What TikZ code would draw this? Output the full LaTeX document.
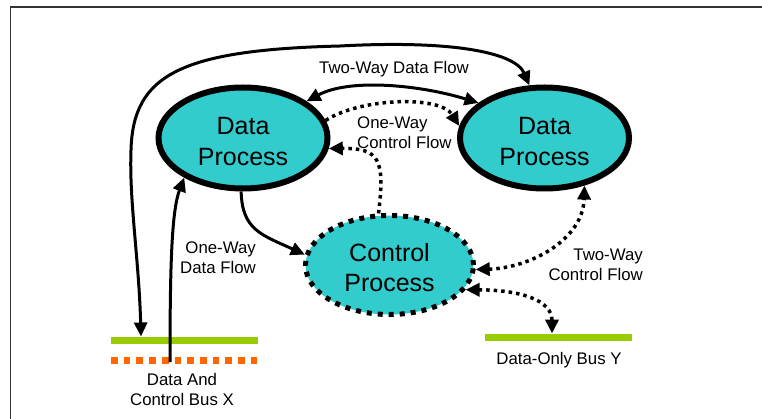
\documentclass[tikz,border=0pt]{standalone}
\usepackage{fontspec}
\setmainfont{Liberation Sans}
\usetikzlibrary{shapes.geometric,arrows.meta}
\definecolor{proc}{RGB}{51,204,204}
\definecolor{busgreen}{RGB}{153,204,0}
\definecolor{busorange}{RGB}{255,102,0}
\definecolor{framegray}{RGB}{51,51,51}
\begin{document}
\begin{tikzpicture}[x=1pt,y=-1pt,
  dataproc/.style={ellipse, draw=black, line width=6pt, fill=proc, minimum width=169pt, minimum height=101pt, inner sep=0pt, align=center, font=\fontsize{25}{31}\selectfont},
  ctrlproc/.style={ellipse, draw=black, line width=5pt, dash pattern=on 5pt off 6pt, fill=proc, minimum width=168pt, minimum height=99pt, inner sep=0pt, align=center, font=\fontsize{25}{29.5}\selectfont},
  lbl/.style={inner sep=0pt, font=\fontsize{16.8}{20}\selectfont},
  onehead/.style={-{Triangle[length=14pt,width=13pt]}},
  twohead/.style={{Triangle[length=14pt,width=13pt]}-{Triangle[length=14pt,width=13pt]}},
  solidflow/.style={line width=3pt},
  dotflow/.style={line width=3.5pt, dash pattern=on 3.5pt off 4pt},
  greenbus/.style={line width=7pt, busgreen},
  orangebus/.style={line width=7pt, busorange, dash pattern=on 6.7pt off 6pt},
  frameline/.style={line width=1.5pt, framegray}
]
\useasboundingbox (0,0) rectangle (762,419);
% frame
\draw[frameline] (10.5,419) -- (10.5,7) -- (762,7);

% buses
\coordinate (gxa) at (111,340); \coordinate (gxb) at (258,340);
\coordinate (oxa) at (111,360); \coordinate (oxb) at (258,360);
\coordinate (gya) at (485,337); \coordinate (gyb) at (632,337);
\draw[greenbus] (gxa) -- (gxb);
\draw[orangebus] (oxa) -- (oxb);
\draw[greenbus] (gya) -- (gyb);
\coordinate (xdown) at (141,336.5);
\coordinate (xup) at (170,362);
\coordinate (ydown) at (552,333.5);

% processes
\node[dataproc] (L) at (243,138) {\rule{0pt}{25pt}Data\\Process};
\node[dataproc] (R) at (544.5,138) {\rule{0pt}{24pt}Data\\Process};
\node[ctrlproc] (C) at (389.5,265) {\rule{0pt}{23pt}Control\\Process};

% labels
\node[lbl] (tdf) at (394,69) {Two-Way Data Flow};
\node[lbl, align=left, anchor=west] (ocf) at (357,133) {One-Way\\Control Flow};
\node[lbl, align=right, anchor=east] (odf) at (256,258) {One-Way\\Data Flow};
\node[lbl, align=right, anchor=east] (tcf) at (643,265) {Two-Way\\Control Flow};
\node[lbl, align=center] (bxl) at (182,389.5) {Data And\\Control Bus X};
\node[lbl] (byl) at (559,360) {Data-Only Bus Y};

% connectors
\draw[solidflow, twohead] (xdown) .. controls (139,260) and (129,200) .. (131,150)
   .. controls (133,75) and (180,50) .. (340,46)
   .. controls (450,40) and (515,52) .. (R.106);
\draw[solidflow, onehead] (xup) .. controls (170,260) and (172,210) .. (L.214);
\draw[solidflow, twohead] (L.30) .. controls (350,78) and (420,85) .. (R.152);
\draw[dotflow, onehead] (L.12) .. controls (360,98) and (440,95) .. (R.172);
\draw[dotflow, onehead] (C.102) .. controls (385,160) and (380,148) .. (L.-7);
\draw[solidflow, onehead] (L.268) .. controls (242,230) and (262,235) .. (C.173);
\draw[dotflow, twohead] (C.-3) .. controls (530,268) and (583,240) .. (R.-50);
\draw[dotflow, twohead] (C.-18) .. controls (520,290) and (552,300) .. (ydown);
\end{tikzpicture}
\end{document}
